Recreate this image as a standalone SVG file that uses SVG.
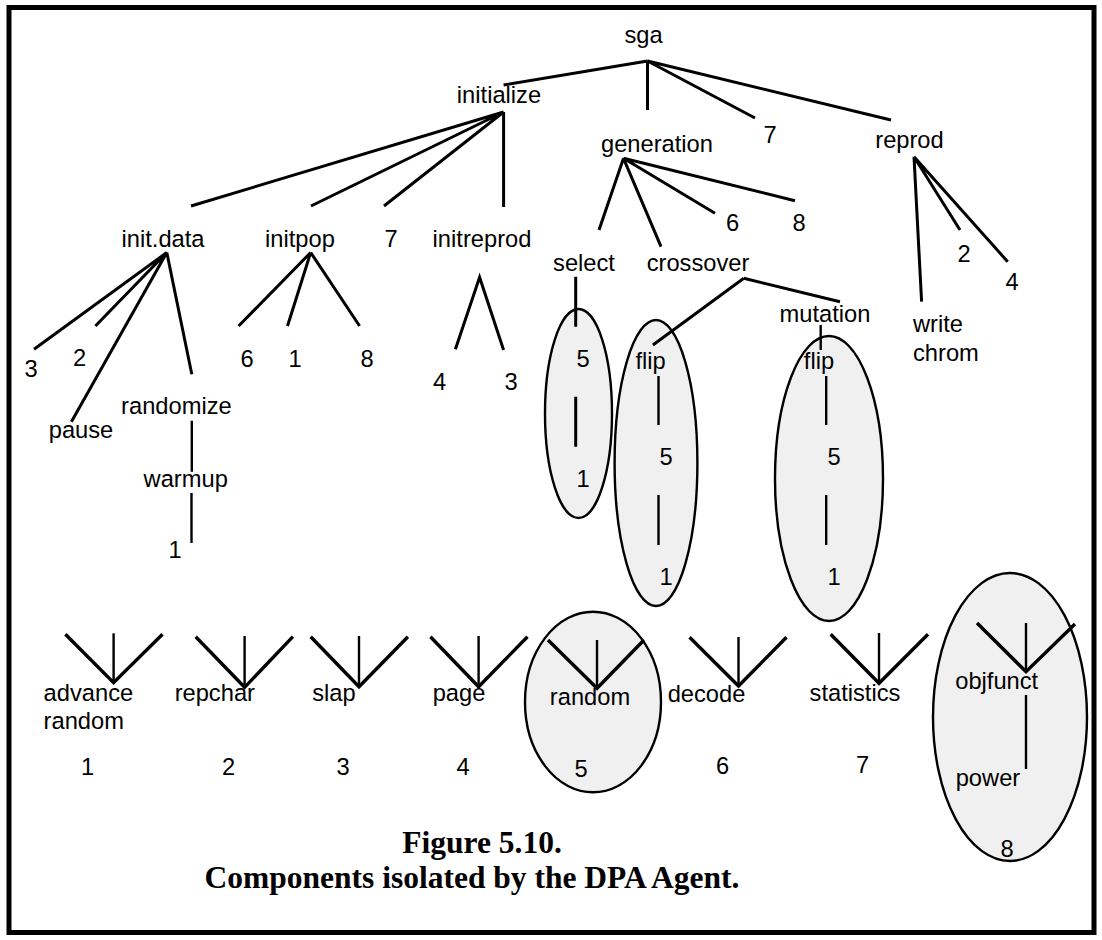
<svg xmlns="http://www.w3.org/2000/svg" width="1102" height="940" viewBox="0 0 1102 940">
  <style>
    text { font-family: "Liberation Sans", Arial, sans-serif; font-size: 23.7px; fill: #000; text-anchor: middle; }
    text.start { text-anchor: start; }
    text.caption { font-family: "Liberation Serif", "Times New Roman", serif; font-weight: bold; font-size: 31.5px; }
    .edge { stroke: #000; stroke-width: 3; fill: none; stroke-linecap: butt; }
    .thin { stroke: #000; stroke-width: 2.4; fill: none; }
    .arm { stroke: #000; stroke-width: 3.4; fill: none; stroke-linejoin: miter; }
    .blob { fill: #f0f0f0; stroke: #000; stroke-width: 2.4; }
  </style>

  <rect x="0" y="0" width="1102" height="940" fill="#fff"/>
  <!-- frame -->
  <rect x="9" y="7.5" width="1085" height="925" fill="none" stroke="#000" stroke-width="5"/>

  <!-- shaded groupings -->
  <g id="groupings">
    <ellipse class="blob" cx="578.5" cy="413.5" rx="33.5" ry="104.5"/>
    <ellipse class="blob" cx="656" cy="463" rx="41.4" ry="143"/>
    <ellipse class="blob" cx="829" cy="478.5" rx="54" ry="142.5"/>
    <ellipse class="blob" cx="593" cy="702" rx="68" ry="90.3"/>
    <ellipse class="blob" cx="1010" cy="717" rx="77" ry="144"/>
  </g>

  <!-- connectors -->
  <g id="connectors">
    <!-- sga -->
    <path class="edge" d="M647.5 61 L503.6 85 M647.5 61 L647.5 110 M647.5 61 L755 118 M647.5 61 L891 120"/>
    <!-- initialize -->
    <path class="edge" d="M503.6 112 L191 206 M503.6 112 L311 206 M503.6 112 L384 206 M503.6 112 L503.6 207"/>
    <!-- init.data -->
    <path class="edge" d="M166.8 252.5 L34 349.3 M166.8 252.5 L95.4 326 M166.8 252.5 L71.4 421.7 M166.8 252.5 L191.8 374.3"/>
    <path class="thin" d="M191.8 420.7 L191.8 471.7 M191.5 493 L191.5 543"/>
    <!-- initpop -->
    <path class="edge" d="M310.7 252.5 L238.6 326 M310.7 252.5 L287.5 326 M310.7 252.5 L359.6 326"/>
    <!-- initreprod -->
    <path class="edge" d="M455.4 349.3 L479.6 277.3 L503.6 350"/>
    <!-- generation -->
    <path class="edge" d="M623.5 158.3 L599 230 M623.5 158.3 L661 246.7 M623.5 158.3 L715 213.3 M623.5 158.3 L795 200.7"/>
    <!-- reprod -->
    <path class="edge" d="M914 156.7 L921.6 301.7 M914 156.7 L960 230 M914 156.7 L1007.7 261.7"/>
    <!-- select -->
    <path class="edge" d="M575.7 276.7 L575.7 326.7 M575.7 396.7 L575.7 446.7"/>
    <!-- crossover -->
    <path class="edge" d="M743.8 278.3 L652.9 345 M743.8 278.3 L840 301.7"/>
    <!-- mutation -->
    <path class="thin" d="M820.7 325 L820.7 350"/>
    <!-- flip chains -->
    <path class="thin" d="M658.5 376 L658.5 425 M658.5 495 L658.5 545 M826.2 376 L826.2 425 M826.2 495 L826.2 545"/>
    <!-- leaf components -->
    <path class="arm" d="M65.4 634.3 L113.6 682.7 L162.5 634.3"/>
    <path class="thin" d="M113.6 633.3 L113.6 682.7"/>
    <path class="arm" d="M195.7 636.7 L244.6 687.3 L292.9 636.7"/>
    <path class="thin" d="M244.6 636 L244.6 687.3"/>
    <path class="arm" d="M310.7 636.7 L359 686.7 L407.9 636.7"/>
    <path class="thin" d="M359 636 L359 686.7"/>
    <path class="arm" d="M430.4 636.7 L478.6 686.7 L527.5 636.7"/>
    <path class="thin" d="M478.6 636 L478.6 686.7"/>
    <path class="arm" d="M548 640 L597 688.3 L644 640"/>
    <path class="thin" d="M597 640 L597 688.3"/>
    <path class="arm" d="M689.6 637.3 L738.5 686 L786.5 637.3"/>
    <path class="thin" d="M738.5 637 L738.5 686"/>
    <path class="arm" d="M830.7 634.3 L879 683.3 L928 634.3"/>
    <path class="thin" d="M879 633 L879 683.3"/>
    <path class="arm" d="M977 623 L1026 671.7 L1075 624"/>
    <path class="thin" d="M1026 623 L1026 671.7 M1026 695 L1026 769"/>
  </g>

  <!-- nodes -->
  <g id="n-sga"><text x="643.5" y="43.3">sga</text></g>
  <g id="n-initialize"><text x="499" y="102.7">initialize</text></g>
  <g id="n-generation"><text x="657" y="151.7">generation</text></g>
  <g id="n-sga-7"><text x="770" y="142.7">7</text></g>
  <g id="n-reprod"><text x="909.5" y="148.3">reprod</text></g>

  <g id="n-initdata"><text x="163" y="246.7">init.data</text></g>
  <g id="n-initpop"><text x="300" y="247">initpop</text></g>
  <g id="n-init-7"><text x="391" y="247">7</text></g>
  <g id="n-initreprod"><text x="482" y="247">initreprod</text></g>

  <g id="n-gen-6"><text x="732.5" y="230.7">6</text></g>
  <g id="n-gen-8"><text x="799" y="230.7">8</text></g>
  <g id="n-select"><text x="584" y="270.7">select</text></g>
  <g id="n-crossover"><text x="698" y="270.7">crossover</text></g>
  <g id="n-rep-2"><text x="964" y="262">2</text></g>
  <g id="n-rep-4"><text x="1012" y="289.5">4</text></g>
  <g id="n-writechrom"><text class="start" x="913" y="331.7">write</text><text class="start" x="913" y="361">chrom</text></g>

  <g id="n-id-3"><text x="31" y="376.7">3</text></g>
  <g id="n-id-2"><text x="79.5" y="366">2</text></g>
  <g id="n-pause"><text x="81" y="438.3">pause</text></g>
  <g id="n-randomize"><text x="176.4" y="414">randomize</text></g>
  <g id="n-warmup"><text x="185.7" y="486.7">warmup</text></g>
  <g id="n-warmup-1"><text x="175" y="558.3">1</text></g>

  <g id="n-ip-6"><text x="247" y="366.7">6</text></g>
  <g id="n-ip-1"><text x="295" y="366.7">1</text></g>
  <g id="n-ip-8"><text x="367" y="366.7">8</text></g>
  <g id="n-ir-4"><text x="439.5" y="390">4</text></g>
  <g id="n-ir-3"><text x="511" y="390">3</text></g>

  <g id="n-sel-5"><text x="583" y="366.7">5</text></g>
  <g id="n-sel-1"><text x="583" y="486.7">1</text></g>

  <g id="n-mutation"><text x="825" y="321.7">mutation</text></g>
  <g id="n-flip-a"><text x="650.6" y="369.3">flip</text></g>
  <g id="n-flip-a-5"><text x="666" y="465">5</text></g>
  <g id="n-flip-a-1"><text x="666" y="585">1</text></g>
  <g id="n-flip-b"><text x="819" y="369.3">flip</text></g>
  <g id="n-flip-b-5"><text x="834" y="465">5</text></g>
  <g id="n-flip-b-1"><text x="834" y="585">1</text></g>

  <g id="c1"><text class="start" x="43.6" y="700.7">advance</text><text class="start" x="43.6" y="729">random</text><text x="87.5" y="775">1</text></g>
  <g id="c2"><text x="214.8" y="700.7">repchar</text><text x="228.6" y="775">2</text></g>
  <g id="c3"><text x="334" y="700.7">slap</text><text x="343" y="775">3</text></g>
  <g id="c4"><text x="459" y="700.7">page</text><text x="463" y="775">4</text></g>
  <g id="c5"><text x="590" y="705">random</text><text x="581" y="776.7">5</text></g>
  <g id="c6"><text x="706.5" y="701.7">decode</text><text x="722.5" y="774">6</text></g>
  <g id="c7"><text x="855" y="700.5">statistics</text><text x="862.5" y="773">7</text></g>
  <g id="c8"><text x="996.7" y="689">objfunct</text><text class="start" x="955.7" y="786">power</text><text x="1007" y="856.7">8</text></g>

  <g id="caption">
    <text class="caption" x="482" y="853">Figure 5.10.</text>
    <text class="caption" x="472" y="888">Components isolated by the DPA Agent.</text>
  </g>
</svg>
